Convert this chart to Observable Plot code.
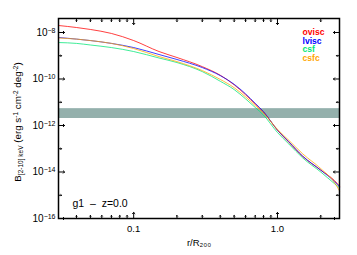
<!DOCTYPE html>
<html>
<head>
<meta charset="utf-8">
<script src="https://cdn.jsdelivr.net/npm/d3@7"></script>
<script src="https://cdn.jsdelivr.net/npm/@observablehq/plot@0.6"></script>
<style>
  html, body { margin: 0; padding: 0; background: white; }
  svg { display: block; }
</style>
</head>
<body>
<div id="chart"></div>
<script>
// radius in units of R200
const r = [0.03, 0.04, 0.05, 0.07, 0.1, 0.15, 0.2, 0.3, 0.4, 0.5, 0.6, 0.7, 0.8, 1.0, 1.2, 1.5, 2.0, 2.5, 2.7];
// surface brightness B[2-10] keV (erg s^-1 cm^-2 deg^-2)
const ovisc = [2.0e-8, 1.64e-8, 1.35e-8, 9.1e-9, 4.5e-9, 1.52e-9, 8.4e-10, 3.4e-10, 1.45e-10, 5.6e-11, 2.1e-11, 8.4e-12, 3.8e-12, 6.2e-13, 1.9e-13, 4.6e-14, 1.2e-14, 4.2e-15, 2.5e-15];
const lvisc = [6.1e-9, 5.2e-9, 4.5e-9, 3.4e-9, 2.25e-9, 1.13e-9, 6.9e-10, 3.1e-10, 1.4e-10, 5.9e-11, 2.3e-11, 9.0e-12, 3.9e-12, 6.4e-13, 2.0e-13, 4.8e-14, 1.2e-14, 3.8e-15, 2.3e-15];
const csf   = [3.7e-9, 3.4e-9, 2.9e-9, 2.25e-9, 1.52e-9, 8.0e-10, 5.1e-10, 2.08e-10, 8.0e-11, 3.5e-11, 1.4e-11, 6.0e-12, 2.8e-12, 5.0e-13, 1.6e-13, 4.0e-14, 1.0e-14, 3.1e-15, 2.1e-15];
const csfc  = [5.8e-9, 5.2e-9, 4.5e-9, 3.4e-9, 2.04e-9, 9.2e-10, 5.6e-10, 2.3e-10, 9.6e-11, 4.2e-11, 1.7e-11, 7.2e-12, 3.4e-12, 6.8e-13, 2.3e-13, 6.0e-14, 1.4e-14, 3.4e-15, 1.55e-15];

const seriesNames  = ["ovisc", "lvisc", "csf", "csfc"];
const seriesColors = ["#ff0000", "#0000ff", "#00e676", "#ffa500"];
const seriesValues = [ovisc, lvisc, csf, csfc];

// horizontal shaded band
const bandLow = 2.0e-12;
const bandHigh = 5.3e-12;

// ticks
const yMajor = [1e-8, 1e-10, 1e-12, 1e-14, 1e-16];
const yMajorExponents = ["\u22128", "\u221210", "\u221212", "\u221214", "\u221216"];
const yMinor = [1e-9, 1e-11, 1e-13, 1e-15];
const xMajor = [0.1, 1.0];
const xMajorLabels = ["0.1", "1.0"];
const xMinor = [0.04, 0.05, 0.06, 0.07, 0.08, 0.09, 0.2, 0.3, 0.4, 0.5, 0.6, 0.7, 0.8, 0.9, 2.0];

const xDomain = [0.03, 2.7];
const yDomain = [1e-16, 4e-8];

const annotation = "g1\u00A0\u00A0\u2013\u00A0\u00A0z=0.0";
const xTitle = "r/R\u2082\u2080\u2080";

const rows = [];
seriesNames.forEach((name, k) => {
  r.forEach((rv, i) => rows.push({series: name, r: rv, B: seriesValues[k][i]}));
});

const tick = {stroke: "black", strokeWidth: 1, anchor: "start"};
const marks = [
  Plot.rect([{lo: bandLow, hi: bandHigh}], {y1: "lo", y2: "hi", fill: "#94b0ac"}),
  ...seriesNames.map((name, k) =>
    Plot.line(rows.filter(d => d.series === name), {x: "r", y: "B", stroke: seriesColors[k], strokeWidth: 0.75, curve: "monotone-x"})
  ),
  // inward ticks: left & right
  Plot.vector(yMajor, {y: d => d, frameAnchor: "left", rotate: 90, length: 6, ...tick}),
  Plot.vector(yMajor, {y: d => d, frameAnchor: "right", rotate: -90, length: 6, ...tick}),
  Plot.vector(yMinor, {y: d => d, frameAnchor: "left", rotate: 90, length: 3, ...tick}),
  Plot.vector(yMinor, {y: d => d, frameAnchor: "right", rotate: -90, length: 3, ...tick}),
  // inward ticks: bottom & top
  Plot.vector(xMajor, {x: d => d, frameAnchor: "bottom", rotate: 0, length: 6, ...tick}),
  Plot.vector(xMajor, {x: d => d, frameAnchor: "top", rotate: 180, length: 6, ...tick}),
  Plot.vector(xMinor, {x: d => d, frameAnchor: "bottom", rotate: 0, length: 3, ...tick}),
  Plot.vector(xMinor, {x: d => d, frameAnchor: "top", rotate: 180, length: 3, ...tick}),
  Plot.axisY(yMajor, {anchor: "left", tickSize: 0, tickPadding: 3, tickFormat: d => "10", label: null, fontSize: 10}),
  Plot.axisX(xMajor, {anchor: "bottom", tickSize: 0, tickPadding: 7, tickFormat: d => xMajorLabels[xMajor.indexOf(d)], label: null, fontSize: 9.5}),
  Plot.frame({stroke: "black", strokeWidth: 1.5}),
  Plot.text([annotation], {text: d => d, frameAnchor: "bottom-left", dx: 14, dy: -15, textAnchor: "start", lineAnchor: "middle", fontSize: 10.5, fill: "black"}),
  Plot.text([xTitle], {text: d => d, frameAnchor: "bottom", dy: 24, lineAnchor: "middle", fontSize: 9.5, fill: "black"}),
  ...seriesNames.map((name, k) =>
    Plot.text([name], {text: d => d, frameAnchor: "top-right", dx: -37, dy: 13.7 + k * 8.7, textAnchor: "start", lineAnchor: "middle", fontSize: 8.6, fontWeight: 600, fill: seriesColors[k]})
  )
];

const chart = Plot.plot({
  width: 357,
  height: 255,
  marginLeft: 58,
  marginRight: 18,
  marginTop: 18,
  marginBottom: 37,
  style: {fontFamily: "Liberation Sans, Arial, sans-serif", fontSize: "9.5px", background: "white", color: "black"},
  x: {type: "log", domain: xDomain, axis: null},
  y: {type: "log", domain: yDomain, axis: null},
  marks
});

const svg = d3.select(chart);

// y tick labels: "10" with a raised exponent
svg.selectAll("g[aria-label='y-axis tick label'] text").each(function(d, i) {
  const el = d3.select(this);
  const exp = yMajorExponents[i];
  el.attr("dx", null);
  el.attr("text-anchor", "end");
  el.append("tspan").attr("font-size", 7).attr("dy", "-0.45em").text(exp);
});

// y-axis title with sub/superscripts
const t = svg.append("text")
  .attr("transform", "translate(21,122) rotate(-90)")
  .attr("text-anchor", "middle")
  .attr("font-family", "Liberation Sans, Arial, sans-serif")
  .attr("font-size", 9.8)
  .attr("fill", "black");
t.append("tspan").text("B");
t.append("tspan").attr("font-size", 6.5).attr("dy", 2).text("[2-10] keV");
t.append("tspan").attr("dy", -2).text("\u00A0(erg s");
t.append("tspan").attr("font-size", 6.5).attr("dy", -3.5).text("-1");
t.append("tspan").attr("dy", 3.5).text("\u00A0cm");
t.append("tspan").attr("font-size", 6.5).attr("dy", -3.5).text("-2");
t.append("tspan").attr("dy", 3.5).text("\u00A0deg");
t.append("tspan").attr("font-size", 6.5).attr("dy", -3.5).text("-2");
t.append("tspan").attr("dy", 3.5).text(")");

document.getElementById("chart").appendChild(chart);
</script>
</body>
</html>
